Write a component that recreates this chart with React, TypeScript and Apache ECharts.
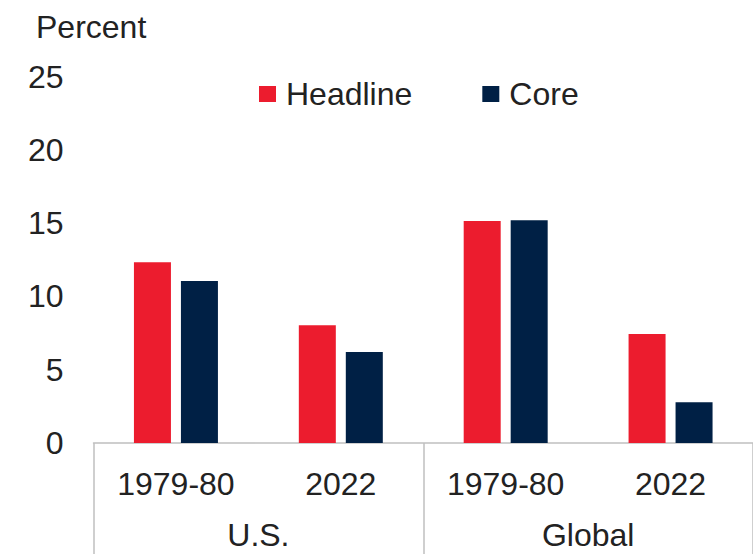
import React, { useEffect, useRef } from "react";
import * as echarts from "echarts";

const periods = ["1979-80", "2022", "1979-80", "2022"];
const regions = ["U.S.", "Global"];
const headline = [12.33, 8.03, 15.14, 7.44];
const core = [11.05, 6.21, 15.19, 2.78];
const yTicks = { min: 0, max: 25, interval: 5 };
const axisTitle = "Percent";

const FONT = "Liberation Sans, Arial, sans-serif";
const TXT = "#222222";
const GRAY = "#bfbfbf";
const RED = "#ec1c2e";
const NAVY = "#002045";

export default function App() {
  const ref = useRef<HTMLDivElement>(null);
  useEffect(() => {
    if (!ref.current) return;
    const chart = echarts.init(ref.current, null, { renderer: "svg" });
    chart.setOption({
      animation: false,
      backgroundColor: "#ffffff",
      textStyle: { fontFamily: FONT },
      grid: { left: 93.5, top: 76.5, width: 664, bottom: 111, containLabel: false },
      legend: {
        left: 259,
        top: 78,
        padding: 0,
        icon: "rect",
        itemWidth: 17,
        itemHeight: 16,
        itemGap: 70,
        textStyle: { fontSize: 32, color: TXT, fontFamily: FONT, padding: [0, 0, 0, 5] },
        data: ["Headline", "Core"],
      },
      graphic: [
        {
          type: "text",
          left: 36,
          top: 11,
          style: { text: axisTitle, fontSize: 32, fill: TXT, fontFamily: FONT },
        },
      ],
      xAxis: [
        {
          type: "category",
          data: periods,
          axisLine: { show: true, lineStyle: { color: GRAY, width: 1.5 } },
          axisTick: { show: false },
          axisLabel: { fontSize: 32, color: TXT, fontFamily: FONT, margin: 25, interval: 0 },
        },
        {
          type: "category",
          data: regions,
          position: "bottom",
          axisLine: { show: false },
          axisTick: { show: true, length: 130, lineStyle: { color: GRAY, width: 1.5 } },
          axisLabel: { fontSize: 32, lineHeight: 30, color: TXT, fontFamily: FONT, margin: 77, interval: 0 },
        },
      ],
      yAxis: {
        type: "value",
        min: yTicks.min,
        max: yTicks.max,
        interval: yTicks.interval,
        axisLine: { show: false },
        axisTick: { show: false },
        splitLine: { show: false },
        axisLabel: { fontSize: 32, color: TXT, fontFamily: FONT, margin: 30 },
      },
      series: [
        {
          name: "Headline",
          type: "bar",
          xAxisIndex: 0,
          data: headline,
          barWidth: 37,
          barGap: "27%",
          itemStyle: { color: RED },
        },
        {
          name: "Core",
          type: "bar",
          xAxisIndex: 0,
          data: core,
          barWidth: 37,
          itemStyle: { color: NAVY },
        },
      ],
    });
    return () => chart.dispose();
  }, []);
  return <div ref={ref} style={{ width: 753, height: 554, position: "fixed", left: 0, top: 0 }} />;
}
